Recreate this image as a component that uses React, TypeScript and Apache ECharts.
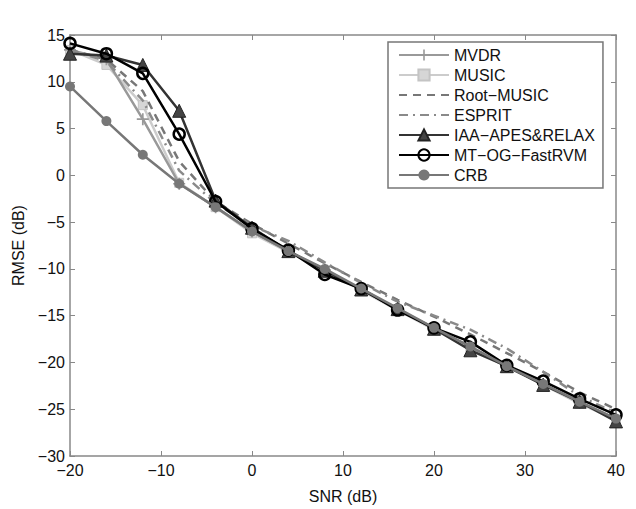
import React, { useEffect, useRef } from "react";
import * as echarts from "echarts";

const snr = [-20, -16, -12, -8, -4, 0, 4, 8, 12, 16, 20, 24, 28, 32, 36, 40];

const mvdr = [13.4, 12.4, 6.0, -0.9, -3.4, -6.0, -8.1, -10.1, -12.2, -14.3, -16.4, -18.3, -20.5, -22.3, -24.3, -26.0];
const music = [13.4, 11.8, 7.5, -0.8, -3.4, -6.2, -8.2, -10.2, -12.3, -14.4, -16.5, -18.4, -20.4, -22.4, -24.4, -26.1];
const rootMusic = [13.4, 12.4, 9.0, 1.5, -2.8, -5.2, -7.3, -9.4, -11.4, -13.3, -15.1, -17.0, -19.0, -21.0, -23.2, -25.0];
const esprit = [13.4, 12.2, 8.0, 0.5, -3.0, -5.4, -7.0, -9.3, -11.5, -13.5, -15.0, -16.5, -18.5, -21.0, -23.6, -25.4];
const iaa = [13.0, 12.8, 11.8, 6.9, -2.7, -5.6, -8.1, -10.2, -12.2, -14.3, -16.4, -18.7, -20.4, -22.4, -24.2, -26.3];
const mtog = [14.1, 13.0, 10.9, 4.4, -2.8, -5.7, -8.0, -10.6, -12.1, -14.4, -16.3, -17.8, -20.3, -22.0, -23.9, -25.6];
const crb = [9.5, 5.8, 2.2, -0.9, -3.4, -6.0, -8.1, -10.0, -12.1, -14.2, -16.3, -18.3, -20.4, -22.3, -24.2, -26.0];

const seriesNames = [
  "MVDR",
  "MUSIC",
  "Root−MUSIC",
  "ESPRIT",
  "IAA−APES&RELAX",
  "MT−OG−FastRVM",
  "CRB",
];

const xTicks = { min: -20, max: 40, interval: 10 };
const yTicks = { min: -30, max: 15, interval: 5 };

const FONT = "'Liberation Sans', Arial, sans-serif";
const minus = (v: number) => String(v).replace("-", "−");

function pairs(vals: number[]) {
  return snr.map((x, i) => [x, vals[i]]);
}

export default function App() {
  const ref = useRef<HTMLDivElement>(null);
  useEffect(() => {
    if (!ref.current) return;
    const chart = echarts.init(ref.current, undefined, { renderer: "svg" });
    const plus = "path://M-1,-7H1V7H-1Z M-7,-1H7V1H-7Z";
    const base = (name: string, data: number[], color: string, extra: any) => ({
      name,
      type: "line",
      data: pairs(data),
      lineStyle: { color, width: 2.5 },
      itemStyle: { color },
      ...extra,
    });
    const option: any = {
      animation: false,
      backgroundColor: "#ffffff",
      textStyle: { fontFamily: FONT },
      grid: { left: 70, right: 20, top: 35, bottom: 49, show: false },
      legend: {
        orient: "vertical",
        left: 388,
        top: 42,
        padding: [5, 8, 5, 10],
        itemWidth: 50,
        itemHeight: 14,
        itemGap: 4,
        borderColor: "#777",
        borderWidth: 1.5,
        backgroundColor: "#fff",
        textStyle: { fontFamily: FONT, fontSize: 16, color: "#111" },
        data: seriesNames.map((n, i) =>
          i === 2 || i === 3 ? { name: n, itemStyle: { opacity: 0 } } : { name: n }
        ),
      },
      xAxis: [
        {
          type: "value",
          min: xTicks.min,
          max: xTicks.max,
          interval: xTicks.interval,
          name: "SNR (dB)",
          nameLocation: "middle",
          nameGap: 32,
          nameTextStyle: { fontSize: 16, color: "#111", fontFamily: FONT },
          axisLine: { show: true, onZero: false, lineStyle: { color: "#888", width: 1.5 } },
          axisTick: { show: true, inside: true, length: 5, lineStyle: { color: "#888" } },
          axisLabel: { fontSize: 16, color: "#111", formatter: minus, margin: 6, fontFamily: FONT },
          splitLine: { show: false },
        },
        {
          type: "value",
          position: "top",
          min: xTicks.min,
          max: xTicks.max,
          interval: xTicks.interval,
          axisLine: { show: true, onZero: false, lineStyle: { color: "#888", width: 1.5 } },
          axisTick: { show: true, inside: true, length: 5, lineStyle: { color: "#888" } },
          axisLabel: { show: false },
          splitLine: { show: false },
        },
      ],
      yAxis: [
        {
          type: "value",
          min: yTicks.min,
          max: yTicks.max,
          interval: yTicks.interval,
          name: "RMSE (dB)",
          nameLocation: "middle",
          nameGap: 42,
          nameTextStyle: { fontSize: 16, color: "#111", fontFamily: FONT },
          axisLine: { show: true, onZero: false, lineStyle: { color: "#888", width: 1.5 } },
          axisTick: { show: true, inside: true, length: 5, lineStyle: { color: "#888" } },
          axisLabel: { fontSize: 16, color: "#111", formatter: minus, margin: 5, fontFamily: FONT },
          splitLine: { show: false },
        },
        {
          type: "value",
          position: "right",
          min: yTicks.min,
          max: yTicks.max,
          interval: yTicks.interval,
          axisLine: { show: true, onZero: false, lineStyle: { color: "#888", width: 1.5 } },
          axisTick: { show: true, inside: true, length: 5, lineStyle: { color: "#888" } },
          axisLabel: { show: false },
          splitLine: { show: false },
        },
      ],
      series: [
        base(seriesNames[0], mvdr, "#999999", { symbol: plus, symbolSize: 12, z: 3 }),
        base(seriesNames[1], music, "#cccccc", {
          symbol: "rect",
          symbolSize: 9,
          itemStyle: { color: "#d6d6d6", borderColor: "#c4c4c4", borderWidth: 1 },
          z: 2,
        }),
        base(seriesNames[2], rootMusic, "#777777", {
          symbol: "none",
          lineStyle: { color: "#777777", width: 2.5, type: [8, 6] },
          z: 4,
        }),
        base(seriesNames[3], esprit, "#8a8a8a", {
          symbol: "none",
          lineStyle: { color: "#8a8a8a", width: 2.5, type: [9, 5, 2, 5] },
          z: 4,
        }),
        base(seriesNames[4], iaa, "#333333", {
          symbol: "triangle",
          symbolSize: 13,
          itemStyle: { color: "#444444", borderColor: "#222", borderWidth: 1 },
          z: 5,
        }),
        base(seriesNames[5], mtog, "#000000", {
          symbol: "circle",
          symbolSize: 11,
          itemStyle: { color: "rgba(255,255,255,0)", borderColor: "#000", borderWidth: 2.5 },
          z: 6,
        }),
        base(seriesNames[6], crb, "#777777", {
          symbol: "circle",
          symbolSize: 10,
          itemStyle: { color: "#777777" },
          z: 7,
        }),
      ],
    };
    chart.setOption(option);
    return () => chart.dispose();
  }, []);
  return (
    <div
      ref={ref}
      style={{ position: "fixed", left: 0, top: 0, width: 636, height: 509, background: "#fff" }}
    />
  );
}
